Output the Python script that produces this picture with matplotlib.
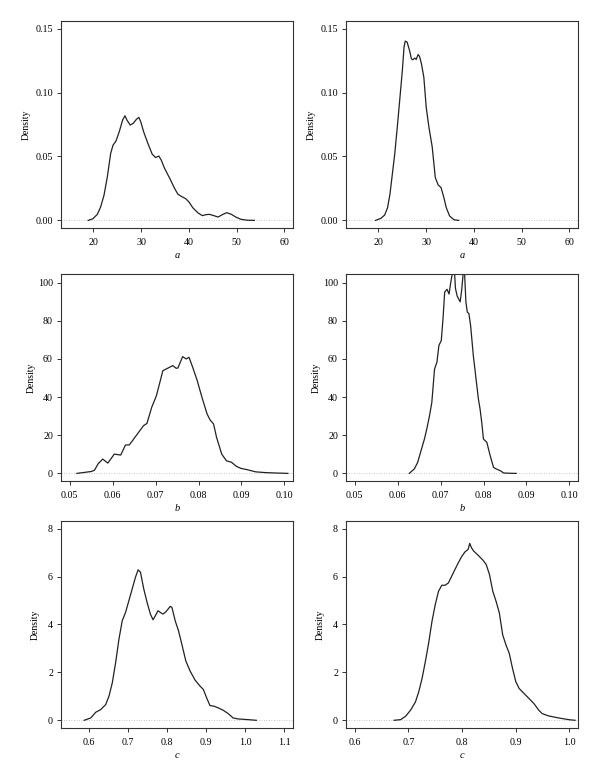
import numpy as np
from matplotlib import pyplot as plt

plt.rcParams['font.family'] = ['Liberation Serif', 'DejaVu Serif']

# density curves (left column / right column)
a1_x = [18.9, 19.9, 20.8, 21.5, 22.2, 22.9, 23.6, 24.1, 24.7, 25.4, 26.1, 26.6, 27.0, 27.7, 28.3, 29.0,
        29.5, 29.9, 30.5, 31.4, 32.3, 33.0, 33.7, 34.2, 34.9, 36.0, 37.0, 37.7, 38.4, 39.3, 40.0, 40.8,
        41.9, 42.8, 43.6, 44.3, 45.2, 46.1, 47.0, 47.9, 48.9, 49.8, 50.9, 52.3, 53.7]
a1_y = [0.0, 0.0013, 0.0047, 0.0105, 0.0196, 0.034, 0.0524, 0.0589, 0.062, 0.0694, 0.0785, 0.0819, 0.0785,
        0.0746, 0.0759, 0.0791, 0.0806, 0.0772, 0.0694, 0.0602, 0.0518, 0.0492, 0.0503, 0.0471, 0.0406,
        0.0327, 0.0249, 0.0204, 0.0188, 0.017, 0.0144, 0.0099, 0.0058, 0.0037, 0.0045, 0.0047, 0.0037,
        0.0026, 0.0045, 0.006, 0.0047, 0.0026, 0.0008, 0.0001, 0.0]

a2_x = [19.4, 20.5, 21.3, 21.9, 22.4, 22.9, 23.4, 24.0, 24.5, 25.0, 25.35, 25.6, 26.0, 26.5, 26.9, 27.2,
        27.6, 27.9, 28.3, 28.6, 29.0, 29.5, 30.0, 30.55, 31.25, 31.9, 32.5, 33.1, 33.7, 34.2, 34.9,
        35.8, 36.8]
a2_y = [0.0, 0.0016, 0.0042, 0.0099, 0.0204, 0.0361, 0.0518, 0.0754, 0.0963, 0.1173, 0.1356, 0.1403,
        0.1395, 0.133, 0.1264, 0.1257, 0.127, 0.1259, 0.1298, 0.1283, 0.1225, 0.112, 0.0885, 0.0733,
        0.0576, 0.0335, 0.0277, 0.0257, 0.0178, 0.0099, 0.0034, 0.0005, 0.0]

b1_x = [0.0517, 0.0551, 0.0558, 0.0566, 0.0577, 0.0589, 0.0604, 0.0619, 0.0630, 0.0639, 0.0653,
        0.0672, 0.0680, 0.0691, 0.0702, 0.0717, 0.0729, 0.0740, 0.0748, 0.0752, 0.0763, 0.0771,
        0.0778, 0.0786, 0.0797, 0.0808, 0.0820, 0.0827, 0.0835, 0.0842, 0.0854, 0.0865, 0.0877,
        0.0888, 0.0899, 0.0914, 0.0933, 0.0956, 0.0979, 0.1008]
b1_y = [0.0, 1.0, 1.7, 4.9, 7.5, 5.4, 10.1, 9.6, 14.9, 14.9, 19.2, 25.0, 26.2, 34.6, 40.7, 53.8, 55.2,
        56.5, 55.1, 55.2, 61.2, 60.0, 60.8, 55.9, 48.6, 39.9, 31.1, 28.0, 25.9, 18.9, 10.1, 6.6, 5.8,
        3.7, 2.6, 1.9, 0.8, 0.4, 0.2, 0.0]

b2_x = [0.06272, 0.06389, 0.06468, 0.06546, 0.06625, 0.06680, 0.06743, 0.06797, 0.06860, 0.06915,
        0.06962, 0.07017, 0.07057, 0.07096, 0.07151, 0.07198, 0.07237, 0.07276, 0.07308, 0.07347,
        0.07386, 0.07418, 0.07457, 0.07496, 0.07527, 0.07543, 0.07559, 0.07590, 0.07622, 0.07661,
        0.07700, 0.07763, 0.07826, 0.07881, 0.07920, 0.07959, 0.07998, 0.08077, 0.08155, 0.08234,
        0.08297, 0.08391, 0.08469, 0.08626, 0.08760]
b2_y = [0.0, 2.3, 5.8, 11.9, 18.0, 23.3, 30.2, 37.2, 54.7, 58.2, 67.1, 69.6, 81.0, 95.0, 96.5, 94.0,
        100.0, 105.0, 112.0, 97.0, 93.0, 91.6, 89.9, 96.9, 105.0, 115.0, 105.0, 89.9, 84.6, 83.7, 77.4,
        61.7, 49.5, 39.0, 33.7, 26.7, 18.0, 16.3, 9.3, 3.1, 2.3, 1.4, 0.2, 0.05, 0.0]

c1_x = [0.5873, 0.6042, 0.6169, 0.6297, 0.6424, 0.6508, 0.6593, 0.6678, 0.6763, 0.6847, 0.6932,
        0.7017, 0.7102, 0.7186, 0.7254, 0.7314, 0.7398, 0.7483, 0.7568, 0.7636, 0.7695, 0.7763,
        0.7822, 0.7890, 0.7966, 0.8076, 0.8119, 0.8203, 0.8288, 0.8373, 0.8475, 0.8585, 0.8712,
        0.8839, 0.8924, 0.9008, 0.9093, 0.9203, 0.9305, 0.9432, 0.9559, 0.9686, 0.9814, 1.0068, 1.0280]
c1_y = [0.0, 0.098, 0.336, 0.448, 0.657, 1.007, 1.566, 2.406, 3.385, 4.154, 4.503, 4.993, 5.483, 5.972,
        6.28, 6.182, 5.483, 4.923, 4.434, 4.196, 4.364, 4.573, 4.503, 4.434, 4.531, 4.755, 4.713, 4.154,
        3.734, 3.175, 2.476, 2.056, 1.678, 1.427, 1.287, 0.937, 0.615, 0.587, 0.517, 0.42, 0.28, 0.098,
        0.056, 0.028, 0.0]

c2_x = [0.6735, 0.6858, 0.6949, 0.7041, 0.7133, 0.7194, 0.7256, 0.7317, 0.7378, 0.7440, 0.7501,
        0.7562, 0.7623, 0.7685, 0.7746, 0.7807, 0.7868, 0.7930, 0.7991, 0.8052, 0.8113, 0.8144,
        0.8175, 0.8217, 0.8297, 0.8389, 0.8450, 0.8511, 0.8573, 0.8634, 0.8695, 0.8757, 0.8818,
        0.8879, 0.8940, 0.9002, 0.9063, 0.9155, 0.9247, 0.9338, 0.9430, 0.9492, 0.9614, 0.9798,
        0.9982, 1.0104]
c2_y = [0.0, 0.028, 0.168, 0.42, 0.769, 1.189, 1.748, 2.448, 3.217, 4.126, 4.825, 5.385, 5.636, 5.636,
        5.734, 6.014, 6.294, 6.573, 6.825, 7.021, 7.133, 7.385, 7.203, 7.063, 6.895, 6.685, 6.503, 6.084,
        5.385, 4.965, 4.476, 3.566, 3.147, 2.797, 2.168, 1.608, 1.329, 1.119, 0.909, 0.699, 0.42, 0.28,
        0.182, 0.098, 0.028, 0.0]

# tick values and labels
a_xticks = [20, 30, 40, 50, 60]
a_xlabels = ['20', '30', '40', '50', '60']
a_yticks = [0.0, 0.05, 0.10, 0.15]
a_ylabels = ['0.00', '0.05', '0.10', '0.15']
b_xticks = [0.05, 0.06, 0.07, 0.08, 0.09, 0.10]
b_xlabels = ['0.05', '0.06', '0.07', '0.08', '0.09', '0.10']
b_yticks = [0, 20, 40, 60, 80, 100]
b_ylabels = ['0', '20', '40', '60', '80', '100']
c1_xticks = [0.6, 0.7, 0.8, 0.9, 1.0, 1.1]
c1_xlabels = ['0.6', '0.7', '0.8', '0.9', '1.0', '1.1']
c2_xticks = [0.6, 0.7, 0.8, 0.9, 1.0]
c2_xlabels = ['0.6', '0.7', '0.8', '0.9', '1.0']
c_yticks = [0, 2, 4, 6, 8]
c_ylabels = ['0', '2', '4', '6', '8']

fig = plt.figure(figsize=(6, 7.82), dpi=100)

lefts = [0.1017, 0.5767]
bottoms = [0.7084, 0.3849, 0.0691]
ylab_x = [-0.152, -0.128, -0.113]

panels = [
    # row, col, x, y, xlim, ylim, xticks, xlabels, yticks, ylabels, name
    (0, 0, a1_x, a1_y, (13.2, 61.8), (-0.006, 0.156), a_xticks, a_xlabels, a_yticks, a_ylabels, 'a'),
    (0, 1, a2_x, a2_y, (13.2, 61.8), (-0.006, 0.156), a_xticks, a_xlabels, a_yticks, a_ylabels, 'a'),
    (1, 0, b1_x, b1_y, (0.048, 0.102), (-4, 104.5), b_xticks, b_xlabels, b_yticks, b_ylabels, 'b'),
    (1, 1, b2_x, b2_y, (0.048, 0.102), (-4, 104.5), b_xticks, b_xlabels, b_yticks, b_ylabels, 'b'),
    (2, 0, c1_x, c1_y, (0.528, 1.122), (-0.32, 8.32), c1_xticks, c1_xlabels, c_yticks, c_ylabels, 'c'),
    (2, 1, c2_x, c2_y, (0.584, 1.016), (-0.32, 8.32), c2_xticks, c2_xlabels, c_yticks, c_ylabels, 'c'),
]

for row, col, x, y, xlim, ylim, xt, xl, yt, yl, name in panels:
    ax = fig.add_axes([lefts[col], bottoms[row], 0.3867, 0.2647])
    ax.axhline(0, color='#b5b5b5', lw=0.6, linestyle=(0, (1, 2)))   # dotted zero line like R
    ax.plot(x, y, color='#222222', lw=0.9)
    ax.set_xlim(*xlim)
    ax.set_ylim(*ylim)
    ax.set_xticks(xt)
    ax.set_xticklabels(xl)
    ax.set_yticks(yt)
    ax.set_yticklabels(yl)
    ax.tick_params(axis='both', direction='out', length=3, width=0.7, labelsize=7.2, color='#333333')
    ax.tick_params(axis='x', pad=4)
    ax.tick_params(axis='y', pad=2.8)
    for s in ax.spines.values():
        s.set_linewidth(0.8)
        s.set_color('#333333')
    ax.set_ylabel('Density', fontsize=7)
    ax.yaxis.set_label_coords(ylab_x[row], 0.5)
    ax.yaxis.label.set_va('center')
    ax.set_xlabel(name, fontsize=7.5, style='italic')
    ax.xaxis.set_label_coords(0.5, -0.133)
    ax.xaxis.label.set_va('center')

plt.savefig('out.png', dpi=100)
